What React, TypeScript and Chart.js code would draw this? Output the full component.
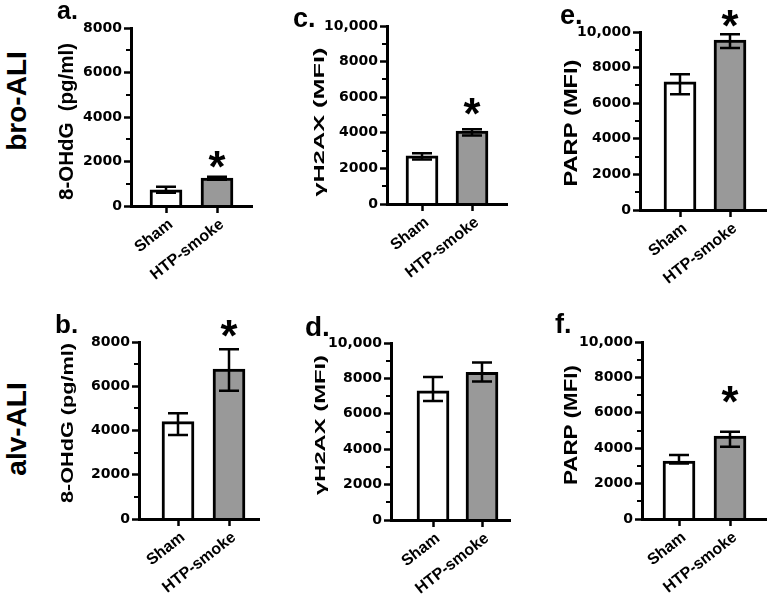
import React, { useEffect, useRef } from 'react';
import { Chart, registerables } from 'chart.js';
Chart.register(...registerables);

// ---------- data ----------
const groups = ['Sham', 'HTP-smoke'];

const ohdgTicks = [0, 2000, 4000, 6000, 8000];
const mfiTicks = [0, 2000, 4000, 6000, 8000, 10000];

// a. bro-ALI 8-OHdG (pg/ml)
const broOhdgMean = [730, 1250];
const broOhdgUp = [140, 70];
const broOhdgDown = [140, 70];
const broOhdgStar = 2100;

// b. alv-ALI 8-OHdG (pg/ml)
const alvOhdgMean = [4400, 6780];
const alvOhdgUp = [380, 890];
const alvOhdgDown = [600, 980];
const alvOhdgStar = 8630;

// c. bro-ALI gH2AX (MFI)
const broH2axMean = [2700, 4100];
const broH2axUp = [150, 100];
const broH2axDown = [200, 250];
const broH2axStar = 5450;

// d. alv-ALI gH2AX (MFI)
const alvH2axMean = [7300, 8340];
const alvH2axUp = [780, 560];
const alvH2axDown = [570, 510];
const alvH2axStar = null;

// e. bro-ALI PARP (MFI)
const broParpMean = [7200, 9550];
const broParpUp = [430, 320];
const broParpDown = [700, 450];
const broParpStar = 10770;

// f. alv-ALI PARP (MFI)
const alvParpMean = [3270, 4680];
const alvParpUp = [340, 245];
const alvParpDown = [130, 600];
const alvParpStar = 7050;

const barColors = ['#ffffff', '#999999'];

// ---------- layout (page pixel positions) ----------
const panels = [
  {
    letter: 'a.', title: '8-OHdG  (pg/ml)', mean: broOhdgMean, up: broOhdgUp, down: broOhdgDown, star: broOhdgStar, ticks: ohdgTicks, tickFont: 14,
    L: { axisX: 131, yTop: 28, y0: 206, sham: 166, htp: 217, right: 253, tcx: 67.5, tcy: 121.5, tlen: 157, tsize: 20, lx: 57, lb: 19, ls: 25 },
  },
  {
    letter: 'b.', title: '8-OHdG (pg/ml)', mean: alvOhdgMean, up: alvOhdgUp, down: alvOhdgDown, star: alvOhdgStar, ticks: ohdgTicks, tickFont: 14,
    L: { axisX: 139, yTop: 342, y0: 519, sham: 178, htp: 229, right: 260, tcx: 69, tcy: 423, tlen: 160, tsize: 16, lx: 55, lb: 333, ls: 26 },
  },
  {
    letter: 'c.', title: '\u03b3H2AX (MFI)', mean: broH2axMean, up: broH2axUp, down: broH2axDown, star: broH2axStar, ticks: mfiTicks, tickFont: 14,
    L: { axisX: 387, yTop: 26, y0: 204, sham: 422, htp: 472, right: 508, tcx: 320, tcy: 122, tlen: 149, tsize: 15, lx: 293, lb: 28, ls: 27 },
  },
  {
    letter: 'd.', title: '\u03b3H2AX (MFI)', mean: alvH2axMean, up: alvH2axUp, down: alvH2axDown, star: alvH2axStar, ticks: mfiTicks, tickFont: 14,
    L: { axisX: 391, yTop: 343, y0: 520, sham: 433, htp: 482, right: 511, tcx: 321, tcy: 425, tlen: 140, tsize: 15, lx: 305, lb: 337, ls: 28 },
  },
  {
    letter: 'e.', title: 'PARP (MFI)', mean: broParpMean, up: broParpUp, down: broParpDown, star: broParpStar, ticks: mfiTicks, tickFont: 14,
    L: { axisX: 640, yTop: 32, y0: 210, sham: 680, htp: 730, right: 767, tcx: 572, tcy: 123, tlen: 127, tsize: 18, lx: 560, lb: 25, ls: 27 },
  },
  {
    letter: 'f.', title: 'PARP (MFI)', mean: alvParpMean, up: alvParpUp, down: alvParpDown, star: alvParpStar, ticks: mfiTicks, tickFont: 14,
    L: { axisX: 642, yTop: 342, y0: 519, sham: 679, htp: 730, right: 767, tcx: 572, tcy: 425, tlen: 120, tsize: 18, lx: 555, lb: 334, ls: 27 },
  },
];

const rowLabels = [
  { text: 'bro-ALI', cx: 17, cy: 101 },
  { text: 'alv-ALI', cx: 17, cy: 429 },
];

const SANS = '"Liberation Sans", Arial, sans-serif';
const YW = 85;
const XH = 90;
const PT = 30;

function fmt(v: number) {
  return v >= 10000 ? v.toLocaleString('en-US') : String(v);
}

function Panel({ p }: { p: any }) {
  const ref = useRef<HTMLCanvasElement>(null);
  const L = p.L;
  const left = L.axisX - YW;
  const top = L.yTop - PT;
  const width = L.right - left;
  const height = PT + (L.y0 - L.yTop) + XH;

  useEffect(() => {
    const spacing = L.htp - L.sham;
    const xMin = 1 - (L.sham - L.axisX) / spacing;
    const xMax = 2 + (L.right - L.htp) / spacing;
    const yMin = p.ticks[0];
    const yMax = p.ticks[p.ticks.length - 1];

    const extras = {
      id: 'extras',
      afterDatasetsDraw(chart: any) {
        const { ctx, chartArea } = chart;
        const xs = chart.scales.x;
        const ys = chart.scales.y;
        ctx.save();
        ctx.strokeStyle = '#000';
        ctx.lineCap = 'butt';
        // error bars
        ctx.lineWidth = 2.5;
        p.mean.forEach((m: number, i: number) => {
          const x = xs.getPixelForValue(i + 1);
          const yT = ys.getPixelForValue(m + p.up[i]);
          const yB = ys.getPixelForValue(m - p.down[i]);
          ctx.beginPath();
          ctx.moveTo(x, yT);
          ctx.lineTo(x, yB);
          ctx.moveTo(x - 10, yT);
          ctx.lineTo(x + 10, yT);
          ctx.moveTo(x - 10, yB);
          ctx.lineTo(x + 10, yB);
          ctx.stroke();
        });
        // minor ticks
        ctx.lineWidth = 2;
        for (let k = 0; k < p.ticks.length - 1; k++) {
          const v = (p.ticks[k] + p.ticks[k + 1]) / 2;
          const y = Math.round(ys.getPixelForValue(v));
          ctx.beginPath();
          ctx.moveTo(chartArea.left - 5, y);
          ctx.lineTo(chartArea.left, y);
          ctx.stroke();
        }
        // significance star
        ctx.fillStyle = '#000';
        if (p.star != null) {
          const x = xs.getPixelForValue(2);
          const y = ys.getPixelForValue(p.star);
          ctx.font = `bold 100px ${SANS}`;
          const m0 = ctx.measureText('*');
          const w0 = m0.actualBoundingBoxRight + m0.actualBoundingBoxLeft;
          const size = (100 * 17) / w0;
          ctx.font = `bold ${size}px ${SANS}`;
          ctx.textAlign = 'left';
          ctx.textBaseline = 'alphabetic';
          const m = ctx.measureText('*');
          const dx = (m.actualBoundingBoxRight - m.actualBoundingBoxLeft) / 2;
          const dy = (m.actualBoundingBoxAscent - m.actualBoundingBoxDescent) / 2;
          ctx.fillText('*', x - dx, y + dy);
        }
        // y-axis title
        ctx.translate(L.tcx - left, L.tcy - top);
        ctx.rotate(-Math.PI / 2);
        ctx.font = `bold ${L.tsize}px ${SANS}`;
        const tw = ctx.measureText(p.title).width;
        ctx.scale(L.tlen / tw, 1);
        ctx.textAlign = 'center';
        ctx.textBaseline = 'middle';
        ctx.fillText(p.title, 0, 0);
        ctx.restore();
      },
    };

    const chart = new Chart(ref.current as HTMLCanvasElement, {
      type: 'bar',
      data: {
        datasets: [
          {
            data: p.mean.map((v: number, i: number) => ({ x: i + 1, y: v })),
            backgroundColor: barColors,
            borderColor: '#000000',
            borderWidth: 3,
            borderSkipped: 'bottom',
            barThickness: 32,
          },
        ],
      },
      options: {
        animation: false,
        responsive: false,
        devicePixelRatio: 1,
        layout: { padding: { top: PT, left: 0, right: 0, bottom: 0 } },
        plugins: { legend: { display: false }, tooltip: { enabled: false } },
        scales: {
          x: {
            type: 'linear',
            offset: false,
            min: xMin,
            max: xMax,
            bounds: 'data',
            afterBuildTicks: (s: any) => {
              s.ticks = groups.map((_, i) => ({ value: i + 1 }));
            },
            afterFit: (s: any) => {
              s.height = XH;
            },
            ticks: {
              autoSkip: false,
              minRotation: 38,
              maxRotation: 38,
              padding: 2,
              labelOffset: 5,
              color: '#000',
              font: { family: SANS, size: 16, weight: 'bold' },
              callback: (v: any) => groups[Math.round(v) - 1] ?? '',
            },
            grid: { offset: false, drawOnChartArea: false, drawTicks: true, tickLength: 7, tickWidth: 2.5, tickColor: '#000' },
            border: { display: true, width: 3, color: '#000', z: 1 },
          },
          y: {
            type: 'linear',
            min: yMin,
            max: yMax,
            afterFit: (s: any) => {
              s.width = YW;
            },
            ticks: {
              stepSize: p.ticks[1] - p.ticks[0],
              padding: 2,
              color: '#000',
              font: { family: '"DejaVu Sans", sans-serif', size: p.tickFont, weight: 'bold' },
              callback: (v: any) => fmt(Number(v)),
            },
            grid: { drawOnChartArea: false, drawTicks: true, tickLength: 7, tickWidth: 2.5, tickColor: '#000' },
            border: { display: true, width: 3, color: '#000', z: 1 },
          },
        },
      } as any,
      plugins: [extras],
    });
    return () => chart.destroy();
  }, []);

  return (
    <canvas
      ref={ref}
      width={width}
      height={height}
      style={{ position: 'absolute', left, top, width, height, display: 'block' }}
    />
  );
}

export default function App() {
  return (
    <div
      style={{
        position: 'absolute',
        left: 0,
        top: 0,
        width: 767,
        height: 610,
        overflow: 'hidden',
        background: '#ffffff',
      }}
    >
      {panels.map((p, i) => (
        <Panel key={i} p={p} />
      ))}
      {panels.map((p, i) => (
        <div
          key={'l' + i}
          style={{
            position: 'absolute',
            left: p.L.lx,
            top: p.L.lb - 0.8465 * p.L.ls,
            fontFamily: SANS,
            fontWeight: 'bold',
            fontSize: p.L.ls,
            lineHeight: `${p.L.ls}px`,
            whiteSpace: 'nowrap',
            color: '#000',
          }}
        >
          {p.letter}
        </div>
      ))}
      {rowLabels.map((r, i) => (
        <div
          key={'r' + i}
          style={{
            position: 'absolute',
            left: r.cx,
            top: r.cy,
            transform: 'translate(-50%, -50%) rotate(-90deg)',
            fontFamily: SANS,
            fontWeight: 'bold',
            fontSize: 28,
            lineHeight: '28px',
            whiteSpace: 'nowrap',
            color: '#000',
          }}
        >
          {r.text}
        </div>
      ))}
    </div>
  );
}
